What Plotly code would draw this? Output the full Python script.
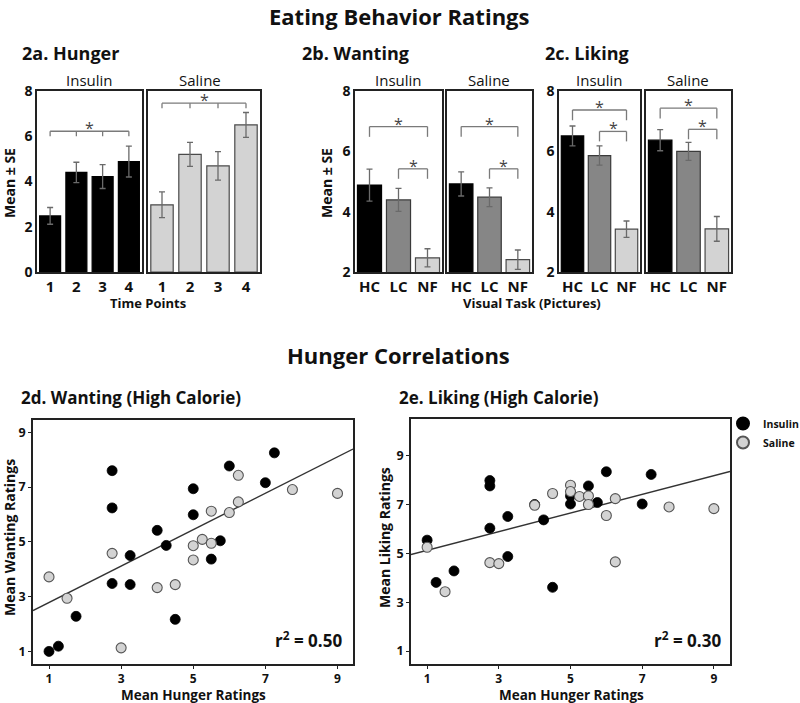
import plotly.graph_objects as go

W, H = 800, 703
FONT = "Open Sans"

# ---------------- data ----------------
time_points = ["1", "2", "3", "4"]
hunger_ins = [2.48, 4.40, 4.22, 4.88]
hunger_ins_se = [0.37, 0.45, 0.53, 0.68]
hunger_sal = [2.97, 5.20, 4.69, 6.50]
hunger_sal_se = [0.57, 0.53, 0.63, 0.55]

tasks = ["HC", "LC", "NF"]
want_ins = [4.88, 4.39, 2.47]
want_ins_se = [0.53, 0.38, 0.30]
want_sal = [4.92, 4.48, 2.41]
want_sal_se = [0.40, 0.31, 0.32]
like_ins = [6.51, 5.86, 3.42]
like_ins_se = [0.33, 0.32, 0.27]
like_sal = [6.37, 6.00, 3.43]
like_sal_se = [0.35, 0.30, 0.41]

# significance bracket heights (data units)
brk_hunger_ins = 6.22
brk_hunger_sal = 7.46
brk_want_ins = [6.82, 5.42]
brk_want_sal = [6.82, 5.42]
brk_like_ins = [7.37, 6.66]
brk_like_sal = [7.43, 6.73]

# scatter: wanting (2d)
want_hx_ins = [1.0, 1.26, 1.75, 2.75, 2.75, 2.75, 3.25, 3.25, 4.0, 4.25, 4.5, 5.0, 5.0, 5.5, 5.75, 6.0, 7.0, 7.25]
want_hy_ins = [1.0, 1.19, 2.28, 7.6, 6.24, 3.48, 4.5, 3.44, 5.42, 4.87, 2.17, 6.94, 5.99, 4.37, 5.04, 7.77, 7.16, 8.25]
want_hx_sal = [1.0, 1.5, 2.75, 3.0, 4.0, 4.5, 5.0, 5.0, 5.25, 5.5, 5.5, 6.0, 6.25, 6.25, 7.75, 9.0]
want_hy_sal = [3.72, 2.94, 4.58, 1.13, 3.33, 3.44, 4.86, 4.34, 5.09, 4.95, 6.12, 6.07, 7.43, 6.46, 6.91, 6.77]
want_fit = (2.12, 0.665)   # intercept, slope
want_r2 = "0.50"

# scatter: liking (2e)
like_hx_ins = [1.0, 1.25, 1.75, 2.75, 2.75, 2.75, 3.25, 3.25, 4.0, 4.25, 4.5, 5.0, 5.0, 5.5, 5.75, 6.0, 7.0, 7.25]
like_hy_ins = [5.54, 3.81, 4.28, 7.98, 7.76, 6.03, 6.51, 4.87, 7.0, 6.37, 3.61, 7.35, 7.02, 7.76, 7.08, 8.34, 7.02, 8.23]
like_hx_sal = [1.0, 1.5, 2.75, 3.0, 4.0, 4.5, 5.0, 5.0, 5.25, 5.5, 5.5, 6.0, 6.25, 6.25, 7.75, 9.0]
like_hy_sal = [5.25, 3.43, 4.62, 4.58, 6.97, 7.45, 7.79, 7.53, 7.33, 7.35, 7.0, 6.55, 7.24, 4.65, 6.9, 6.83]
like_fit = (4.74, 0.382)
like_r2 = "0.30"

# ---------------- styling ----------------
BLACK = "#000000"
MID = "#868686"
LIGHT = "#d3d3d3"
EDGE = "#4a4a4a"
ERR = "#6a6a6a"
BRK = "#7a7a7a"


def px(x):
    return x / W


def py(y):
    return 1 - y / H


fig = go.Figure()
annotations = []
shapes = []

# panel boxes in pixels: (left, right, top, bottom)
boxes = {
    1: (37, 142, 91, 272),
    2: (148, 260, 91, 272),
    3: (355, 442, 91, 272),
    4: (447, 532, 91, 272),
    5: (559, 640, 91, 272),
    6: (646, 731, 91, 272),
    7: (33, 353, 420, 664),
    8: (411, 730, 419, 664),
}


def axname(i, kind):
    return kind + ("" if i == 1 else str(i))


def setup_axes(i, xrange_, yrange, xt, xtext, yt, show_y, scatter=False):
    l, r, t, b = boxes[i]
    xa = dict(domain=[px(l), px(r)], range=xrange_, tickvals=xt, ticktext=xtext,
              showgrid=False, zeroline=False, showline=True, mirror=True,
              linecolor="#222", linewidth=1.6, anchor=axname(i, "y"),
              tickfont=dict(family=FONT, size=12 if scatter else 15, color="#111", weight="bold"),
              ticks="outside" if scatter else "", ticklen=3, tickcolor="#222")
    ya = dict(domain=[py(b), py(t)], range=yrange, tickvals=yt,
              showticklabels=show_y,
              showgrid=False, zeroline=False, showline=True, mirror=True,
              linecolor="#222", linewidth=1.6, anchor=axname(i, "x"),
              tickfont=dict(family=FONT, size=12.5 if scatter else 14, color="#111", weight="bold"),
              ticks="outside" if scatter else "", ticklen=3, tickcolor="#222")
    fig.layout[("xaxis" if i == 1 else "xaxis%d" % i)] = xa
    fig.layout[("yaxis" if i == 1 else "yaxis%d" % i)] = ya


def bars(i, vals, errs, colors, edges):
    fig.add_trace(go.Bar(
        x=list(range(1, len(vals) + 1)), y=vals,
        xaxis=axname(i, "x"), yaxis=axname(i, "y"),
        marker=dict(color=colors, line=dict(color=edges, width=1.2)),
        width=0.8 if len(vals) == 4 else 0.83,
        error_y=dict(type="data", array=errs, color=ERR, thickness=1.3, width=3),
        showlegend=False,
    ))


def bracket(i, x0, x1, y, drop, tick_x):
    xr, yr = axname(i, "x"), axname(i, "y")
    shapes.append(dict(type="line", xref=xr, yref=yr, x0=x0, x1=x1, y0=y, y1=y,
                       line=dict(color=BRK, width=1.3)))
    for tx in tick_x:
        shapes.append(dict(type="line", xref=xr, yref=yr, x0=tx, x1=tx, y0=y, y1=y - drop,
                           line=dict(color=BRK, width=1.3)))
    annotations.append(dict(x=(x0 + x1) / 2, y=y, xref=xr, yref=yr, text="*",
                            showarrow=False, yanchor="middle", yshift=3,
                            font=dict(family=FONT, size=16, color="#444")))


# ---- 2a hunger ----
setup_axes(1, [0.5, 4.5], [0, 8], [1, 2, 3, 4], time_points, [0, 2, 4, 6, 8], True)
setup_axes(2, [0.5, 4.5], [0, 8], [1, 2, 3, 4], time_points, [0, 2, 4, 6, 8], False)
bars(1, hunger_ins, hunger_ins_se, [BLACK] * 4, [BLACK] * 4)
bars(2, hunger_sal, hunger_sal_se, [LIGHT] * 4, [EDGE] * 4)
bracket(1, 1, 4, brk_hunger_ins, 0.22, [1, 2, 3, 4])
bracket(2, 1, 4, brk_hunger_sal, 0.22, [1, 2, 3, 4])

# ---- 2b wanting / 2c liking ----
task_colors = [BLACK, MID, LIGHT]
task_edges = [BLACK, "#3a3a3a", EDGE]
for i, vals, errs, brk, showy in [
    (3, want_ins, want_ins_se, brk_want_ins, True),
    (4, want_sal, want_sal_se, brk_want_sal, False),
    (5, like_ins, like_ins_se, brk_like_ins, True),
    (6, like_sal, like_sal_se, brk_like_sal, False),
]:
    setup_axes(i, [0.5, 3.5], [2, 8], [1, 2, 3], tasks, [2, 4, 6, 8], showy)
    bars(i, vals, errs, task_colors, task_edges)
    bracket(i, 1, 3, brk[0], 0.34, [1, 3])
    bracket(i, 2, 3, brk[1], 0.33, [2, 3])

# ---- 2d / 2e scatter ----
setup_axes(7, [0.556, 9.43], [0.54, 9.45], [1, 3, 5, 7, 9], ["1", "3", "5", "7", "9"],
           [1, 3, 5, 7, 9], True, scatter=True)
setup_axes(8, [0.55, 9.45], [0.47, 10.5], [1, 3, 5, 7, 9], ["1", "3", "5", "7", "9"],
           [1, 3, 5, 7, 9], True, scatter=True)

for i, hx_i, hy_i, hx_s, hy_s, fit, leg in [
    (7, want_hx_ins, want_hy_ins, want_hx_sal, want_hy_sal, want_fit, True),
    (8, like_hx_ins, like_hy_ins, like_hx_sal, like_hy_sal, like_fit, False),
]:
    xr = fig.layout[axname(i, "xaxis")].range
    fig.add_trace(go.Scatter(
        x=list(xr), y=[fit[0] + fit[1] * v for v in xr], mode="lines",
        line=dict(color="#333", width=1.4), xaxis=axname(i, "x"), yaxis=axname(i, "y"),
        showlegend=False, hoverinfo="skip"))
    fig.add_trace(go.Scatter(
        x=hx_i, y=hy_i, mode="markers", name="Insulin", showlegend=leg,
        marker=dict(color=BLACK, size=10, line=dict(color=BLACK, width=0.8)),
        xaxis=axname(i, "x"), yaxis=axname(i, "y")))
    fig.add_trace(go.Scatter(
        x=hx_s, y=hy_s, mode="markers", name="Saline", showlegend=leg,
        marker=dict(color=LIGHT, size=10, line=dict(color="#555", width=1.1)),
        xaxis=axname(i, "x"), yaxis=axname(i, "y")))


# ---------------- text ----------------
def text(x, y, s, size, bold=True, angle=0, xanchor="center", color="#111"):
    annotations.append(dict(x=px(x), y=py(y), xref="paper", yref="paper", text=s,
                            showarrow=False, xanchor=xanchor, yanchor="middle",
                            textangle=angle,
                            font=dict(family=FONT, size=size, color=color,
                                      weight="bold" if bold else "normal")))


text(399, 16, "Eating Behavior Ratings", 22)
text(398, 355, "Hunger Correlations", 22)
text(20, 53, "2a. Hunger", 18, xanchor="left")
text(300, 53, "2b. Wanting", 18, xanchor="left")
text(543, 53, "2c. Liking", 18, xanchor="left")
text(19, 397, "2d. Wanting (High Calorie)", 17, xanchor="left")
text(397, 397, "2e. Liking (High Calorie)", 17, xanchor="left")

for x, s in [(89, "Insulin"), (200, "Saline"), (398, "Insulin"), (489, "Saline"),
             (599, "Insulin"), (688, "Saline")]:
    text(x, 80, s, 15, bold=False)

text(9, 183, "Mean ± SE", 14, angle=-90)
text(326, 183, "Mean ± SE", 14, angle=-90)
text(148, 303, "Time Points", 13)
text(532, 303, "Visual Task (Pictures)", 13)

text(9, 538, "Mean Wanting Ratings", 14, angle=-90)
text(384, 538, "Mean Liking Ratings", 14, angle=-90)
text(193, 695, "Mean Hunger Ratings", 13.5)
text(571, 695, "Mean Hunger Ratings", 13.5)
text(344, 639, "r<sup>2</sup> = " + want_r2, 17, xanchor="right")
text(723, 639, "r<sup>2</sup> = " + like_r2, 17, xanchor="right")

fig.update_layout(
    width=W, height=H, margin=dict(l=0, r=0, t=0, b=0, autoexpand=False),
    paper_bgcolor="white", plot_bgcolor="white",
    barmode="overlay", annotations=annotations, shapes=shapes,
    legend=dict(x=px(723), y=py(409), xanchor="left", yanchor="top",
                font=dict(family=FONT, size=10.5, color="#111", weight="bold"),
                bgcolor="rgba(0,0,0,0)", itemsizing="constant", itemwidth=30,
                tracegroupgap=0),
    font=dict(family=FONT),
)

fig.write_html("out.html", config={"displayModeBar": False},
               post_script="document.body.style.margin='0';document.body.style.padding='0';")
